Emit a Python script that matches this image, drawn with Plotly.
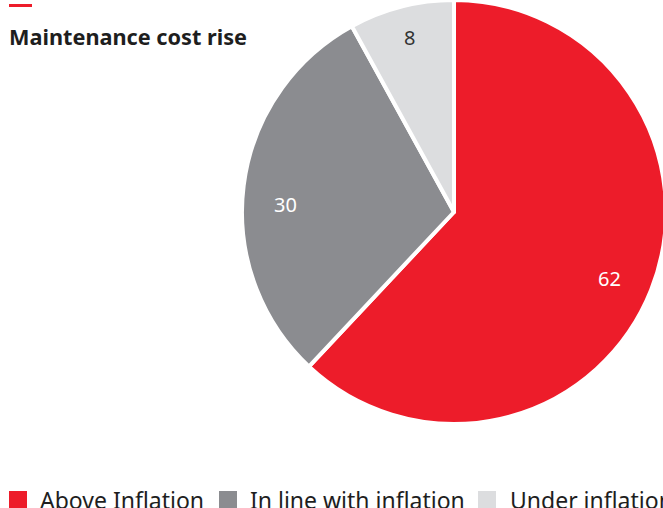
import math
import plotly.graph_objects as go

categories = ["Above Inflation", "In line with inflation", "Under inflation"]
values = [62, 30, 8]
colors = ["#ED1C2A", "#8B8C90", "#DCDDDF"]
text_colors = ["#FFFFFF", "#FFFFFF", "#333333"]
title_text = "Maintenance cost rise"

W, H = 700, 520
FONT = "Noto Sans"

def px(x):
    return x / W

def py(y):
    return 1 - y / H

cx, cy, r = 454, 212, 212
label_r = [0.79, 0.80, 0.85]
label_dy = [5, 14, 0]

fig = go.Figure(go.Pie(
    labels=categories,
    values=values,
    sort=False,
    direction="clockwise",
    rotation=0,
    marker=dict(colors=colors, line=dict(color="white", width=4)),
    textinfo="none",
    hoverinfo="label+value",
    domain=dict(x=[px(cx - r), px(cx + r)], y=[py(cy + r), py(cy - r)]),
    showlegend=False,
))

shapes = [dict(type="rect", xref="paper", yref="paper",
               x0=px(9), x1=px(32), y0=py(7), y1=py(4),
               fillcolor="#ED1C2A", line=dict(width=0))]
annotations = [dict(text="<b>" + title_text + "</b>", xref="paper", yref="paper",
                    x=px(7), y=py(37), xanchor="left", yanchor="middle",
                    showarrow=False, font=dict(family=FONT, size=21.7, color="#1E1E1E"))]

# slice value labels, placed near each slice's mid-angle
total = sum(values)
cum = 0
for i, v in enumerate(values):
    mid = (cum + v / 2) / total * 2 * math.pi
    cum += v
    rho = label_r[i] * r
    lx = cx + rho * math.sin(mid)
    ly = cy - rho * math.cos(mid) + label_dy[i]
    annotations.append(dict(text=str(v), xref="paper", yref="paper",
                            x=px(lx), y=py(ly), xanchor="center", yanchor="middle",
                            showarrow=False, font=dict(family=FONT, size=20, color=text_colors[i])))

sq_x = [9, 219, 478]
txt_x = [38, 248, 508]
for i, lab in enumerate(categories):
    shapes.append(dict(type="rect", xref="paper", yref="paper",
                       x0=px(sq_x[i]), x1=px(sq_x[i] + 18), y0=py(509), y1=py(491),
                       fillcolor=colors[i], line=dict(width=0)))
    annotations.append(dict(text=lab, xref="paper", yref="paper",
                            x=px(txt_x[i]), y=py(500), xanchor="left", yanchor="middle",
                            showarrow=False, font=dict(family=FONT, size=23, color="#1E1E1E")))

fig.update_layout(
    width=W, height=H,
    margin=dict(l=0, r=0, t=0, b=0),
    paper_bgcolor="white", plot_bgcolor="white",
    shapes=shapes, annotations=annotations,
)

fig.write_html("out.html", config={"displayModeBar": False},
               post_script="document.body.style.overflow='hidden';document.body.style.margin='0';")
